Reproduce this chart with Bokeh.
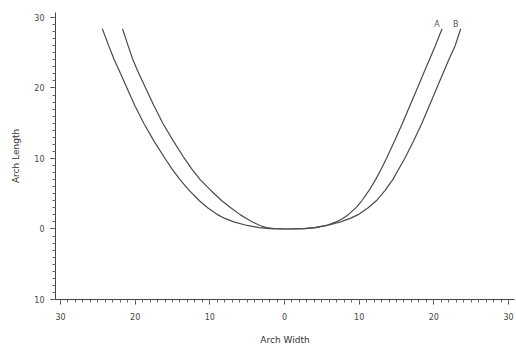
from bokeh.plotting import figure
from bokeh.models import Range1d, FixedTicker, ColumnDataSource
from bokeh.core.properties import value
from bokeh.embed import file_html
from bokeh.resources import INLINE

# Arch lengths at which the widths were read (left side top -> bottom -> right side top)
lengths = [28.4, 26.0, 24.0, 22.0, 20.0, 17.5, 15.0, 12.5, 10.0, 8.5,
           7.0, 5.5, 4.0, 3.0, 2.0, 1.5, 1.0, 0.5, 0.2, 0.05, 0.0,
           0.05, 0.2, 0.5, 1.0, 1.5, 2.0, 3.0, 4.0, 5.5, 7.0, 8.5, 10.0, 12.5,
           15.0, 17.5, 20.0, 22.0, 24.0, 26.0, 28.4]

# Curve A (inner): widths
a_width = [-21.7, -20.95, -20.3, -19.5, -18.6, -17.5, -16.3, -14.9, -13.4, -12.4,
           -11.3, -9.9, -8.4, -7.2, -5.9, -5.1, -4.3, -3.3, -2.4, -1.4, 0.3,
           2.8, 4.2, 5.6, 6.9, 7.8, 8.5, 9.55, 10.35, 11.35, 12.2, 12.95, 13.65, 14.75,
           15.8, 16.8, 17.8, 18.6, 19.4, 20.2, 21.1]
a_length = lengths

# Curve B (outer)
b_width = [-24.4, -23.55, -22.8, -21.95, -21.1, -20.05, -18.85, -17.5, -16.0, -15.05,
           -14.0, -12.8, -11.4, -10.3, -8.9, -8.0, -6.8, -5.0, -3.4, -2.0, 0.3,
           2.5, 4.0, 5.7, 7.5, 8.8, 9.8, 11.2, 12.3, 13.5, 14.5, 15.3, 16.1, 17.3,
           18.4, 19.4, 20.4, 21.2, 22.0, 22.85, 23.6]
b_length = lengths

curve_names = ["A", "B"]

x_ticks = [-30, -20, -10, 0, 10, 20, 30]
x_tick_labels = ["30", "20", "10", "0", "10", "20", "30"]
y_ticks = [-10, 0, 10, 20, 30]
y_tick_labels = ["10", "0", "10", "20", "30"]

p = figure(width=516, height=354, output_backend="svg", toolbar_location=None,
           x_range=Range1d(-30.67, 30.8), y_range=Range1d(-10, 30.7),
           min_border_left=55, min_border_right=2, min_border_top=12,
           min_border_bottom=55)
p.outline_line_color = None
p.xgrid.visible = False
p.ygrid.visible = False
p.background_fill_color = "white"

line_col = "#4a4a4a"
p.line(a_width, a_length, line_color=line_col, line_width=1.2)
p.line(b_width, b_length, line_color=line_col, line_width=1.2)

lab_src = ColumnDataSource(dict(x=[a_width[-1] - 0.3, b_width[-1] - 0.3],
                                y=[a_length[-1], b_length[-1]],
                                t=curve_names))
p.text(x="x", y="y", text="t", source=lab_src, text_align="right",
       text_baseline="bottom", text_font_size="8px", text_color="#555",
       text_font=value("DejaVu Sans"))

for ax in (p.xaxis[0], p.yaxis[0]):
    ax.axis_line_color = "#444"
    ax.major_tick_line_color = "#444"
    ax.minor_tick_line_color = "#666"
    ax.major_tick_out = 5
    ax.major_tick_in = 0
    ax.minor_tick_out = 3
    ax.minor_tick_in = 0
    ax.major_label_text_font = "DejaVu Sans"
    ax.major_label_text_font_size = "8px"
    ax.major_label_text_color = "#444"
    ax.axis_label_text_font = "DejaVu Sans"
    ax.axis_label_text_font_size = "9px"
    ax.axis_label_text_font_style = "normal"
    ax.axis_label_text_color = "#333"

p.xaxis.ticker = FixedTicker(ticks=x_ticks, minor_ticks=list(range(-30, 31)))
p.yaxis.ticker = FixedTicker(ticks=y_ticks, minor_ticks=list(range(-10, 31)))
p.xaxis.major_label_overrides = dict(zip(x_ticks, x_tick_labels))
p.yaxis.major_label_overrides = dict(zip(y_ticks, y_tick_labels))
p.xaxis.axis_label = "Arch Width"
p.yaxis.axis_label = "Arch Length"
p.xaxis.major_label_standoff = 8
p.yaxis.major_label_standoff = 6
p.xaxis.axis_label_standoff = 12
p.yaxis.axis_label_standoff = 10

open("out.html", "w").write(file_html(p, INLINE))
